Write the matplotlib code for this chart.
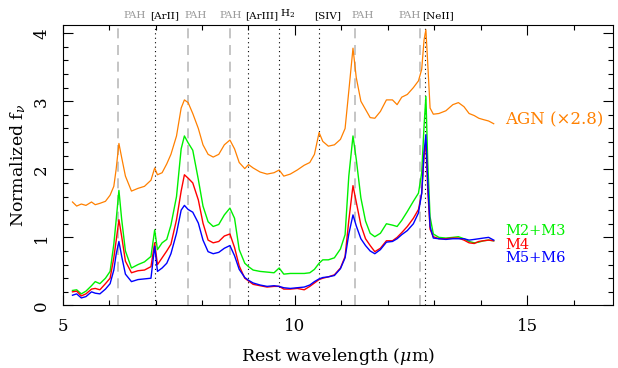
#! /usr/bin/env python3

import numpy as np
from matplotlib import pyplot as plt
from matplotlib.ticker import MultipleLocator

plt.rcParams['font.family'] = ['DejaVu Serif']
plt.rcParams['mathtext.fontset'] = 'dejavuserif'

# Rest wavelength grid (micron)
wave = [5.21, 5.30, 5.40, 5.50, 5.62, 5.70, 5.80, 5.92, 6.02, 6.10, 6.15, 6.21,
        6.27, 6.35, 6.48, 6.62, 6.76, 6.90, 6.98, 7.04, 7.14, 7.24, 7.33, 7.45,
        7.55, 7.62, 7.70, 7.80, 7.92, 8.02, 8.13, 8.24, 8.36, 8.48, 8.60, 8.70,
        8.80, 8.92, 9.00, 9.10, 9.25, 9.40, 9.55, 9.66, 9.76, 9.90, 10.05, 10.20,
        10.32, 10.42, 10.52, 10.60, 10.72, 10.85, 10.98, 11.08, 11.16, 11.25,
        11.32, 11.42, 11.52, 11.62, 11.72, 11.84, 11.97, 12.10, 12.20, 12.30,
        12.42, 12.55, 12.66, 12.73, 12.78, 12.82, 12.86, 12.91, 12.98, 13.10,
        13.25, 13.40, 13.52, 13.64, 13.75, 13.86, 13.96, 14.06, 14.17, 14.28]

agn = [1.52, 1.46, 1.49, 1.47, 1.52, 1.48, 1.50, 1.53, 1.62, 1.75, 2.00, 2.38,
       2.17, 1.90, 1.68, 1.72, 1.75, 1.84, 2.02, 1.92, 1.95, 2.08, 2.22, 2.49,
       2.90, 3.02, 2.98, 2.82, 2.60, 2.36, 2.22, 2.18, 2.22, 2.36, 2.43, 2.30,
       2.10, 2.01, 2.07, 2.02, 1.96, 1.93, 1.95, 1.99, 1.90, 1.93, 1.99, 2.06,
       2.10, 2.22, 2.54, 2.41, 2.34, 2.36, 2.44, 2.60, 3.15, 3.78,
       3.35, 3.00, 2.88, 2.76, 2.75, 2.85, 3.02, 3.02, 2.95, 3.06,
       3.10, 3.20, 3.30, 3.47, 3.90, 4.05, 3.55, 2.90, 2.81, 2.82,
       2.86, 2.95, 2.98, 2.92, 2.82, 2.79, 2.75, 2.73, 2.71, 2.67]

m23 = [0.22, 0.23, 0.17, 0.21, 0.29, 0.35, 0.32, 0.40, 0.50, 0.90, 1.25, 1.69,
       1.26, 0.80, 0.55, 0.60, 0.64, 0.72, 1.11, 0.82, 0.92, 0.97, 1.18, 1.60,
       2.30, 2.49, 2.39, 2.28, 1.85, 1.46, 1.23, 1.16, 1.19, 1.33, 1.43, 1.28,
       0.82, 0.62, 0.57, 0.52, 0.50, 0.49, 0.48, 0.55, 0.46, 0.47, 0.47, 0.47,
       0.48, 0.53, 0.62, 0.67, 0.67, 0.70, 0.83, 1.04, 1.90, 2.49,
       2.15, 1.58, 1.24, 1.06, 1.01, 1.06, 1.20, 1.18, 1.16, 1.25,
       1.38, 1.53, 1.65, 1.95, 2.63, 3.07, 2.10, 1.30, 1.05, 1.00,
       0.99, 1.00, 1.01, 0.98, 0.94, 0.92, 0.93, 0.95, 0.96, 0.95]

m4 = [0.20, 0.21, 0.14, 0.17, 0.24, 0.25, 0.23, 0.32, 0.40, 0.70, 0.95, 1.26,
      1.01, 0.65, 0.48, 0.51, 0.52, 0.57, 0.92, 0.60, 0.70, 0.80, 0.90, 1.26,
      1.68, 1.92, 1.87, 1.80, 1.55, 1.21, 0.96, 0.92, 0.94, 1.02, 1.05, 0.85,
      0.58, 0.40, 0.36, 0.31, 0.29, 0.27, 0.28, 0.28, 0.24, 0.24, 0.25, 0.23,
      0.28, 0.33, 0.38, 0.40, 0.42, 0.45, 0.55, 0.72, 1.25, 1.76,
      1.52, 1.18, 0.98, 0.88, 0.79, 0.84, 0.95, 0.95, 1.00, 1.07,
      1.16, 1.28, 1.41, 1.65, 2.20, 2.39, 1.70, 1.12, 1.01, 0.98,
      0.98, 0.99, 0.99, 0.96, 0.92, 0.91, 0.94, 0.95, 0.96, 0.95]

m56 = [0.15, 0.17, 0.11, 0.13, 0.20, 0.18, 0.17, 0.24, 0.32, 0.52, 0.75, 0.94,
       0.72, 0.46, 0.35, 0.38, 0.39, 0.40, 0.87, 0.50, 0.55, 0.62, 0.76, 1.06,
       1.40, 1.47, 1.41, 1.37, 1.21, 0.96, 0.79, 0.76, 0.78, 0.84, 0.88, 0.73,
       0.53, 0.41, 0.37, 0.33, 0.30, 0.28, 0.29, 0.28, 0.26, 0.25, 0.26, 0.27,
       0.30, 0.35, 0.39, 0.41, 0.42, 0.44, 0.54, 0.70, 1.05, 1.33,
       1.17, 0.98, 0.88, 0.80, 0.76, 0.82, 0.93, 0.94, 0.98, 1.04,
       1.10, 1.20, 1.36, 1.65, 2.25, 2.51, 1.80, 1.16, 0.99, 0.98,
       0.97, 0.98, 0.98, 0.98, 0.96, 0.97, 0.98, 0.99, 1.00, 0.96]

# Feature lines and their labels (label x position, text)
pah_lines = [6.2, 7.7, 8.6, 11.3, 12.7]
ion_lines = [6.99, 8.99, 9.66, 10.51, 12.81]
top_labels = [(6.55, 'PAH', 'gray'), (7.19, '[ArII]', 'k'), (7.86, 'PAH', 'gray'),
              (8.62, 'PAH', 'gray'), (9.28, '[ArIII]', 'k'), (9.84, 'H$_2$', 'k'),
              (10.70, '[SIV]', 'k'), (11.45, 'PAH', 'gray'), (12.48, 'PAH', 'gray'),
              (13.08, '[NeII]', 'k')]

orange = '#ff8000'
green = '#00f000'

fig = plt.figure(figsize=(6.18, 3.68), dpi=100)
ax = fig.add_axes([0.1015, 0.170, 0.8905, 0.762])

for x in pah_lines:
    ax.axvline(x, color='#bbbbbb', lw=1.2, ls=(0, (6, 4)), zorder=1)
for x in ion_lines:
    ax.axvline(x, color='k', lw=0.8, ls=(0, (1, 3)), zorder=1)

ax.plot(wave, agn, color=orange, lw=0.9)
ax.plot(wave, m23, color=green, lw=1.0)
ax.plot(wave, m4, color='#ff0000', lw=1.0)
ax.plot(wave, m56, color='#0000ff', lw=1.0)

ax.text(14.53, 2.73, 'AGN (\u00d72.8)', color=orange, fontsize=12, va='center')
ax.text(14.53, 1.09, 'M2+M3', color=green, fontsize=10.5, va='center')
ax.text(14.53, 0.89, 'M4', color='#ff0000', fontsize=10.5, va='center')
ax.text(14.53, 0.69, 'M5+M6', color='#0000ff', fontsize=10.5, va='center')

for x, s, c in top_labels:
    ax.text(x, 4.19, s, color=c if c == 'k' else '#999999', fontsize=7.5,
            ha='center', va='bottom')

ax.set_xlim(5, 16.85)
ax.set_ylim(0, 4.12)
ax.xaxis.set_major_locator(MultipleLocator(5))
ax.xaxis.set_minor_locator(MultipleLocator(1))
ax.yaxis.set_major_locator(MultipleLocator(1))
ax.yaxis.set_minor_locator(MultipleLocator(0.2))
ax.tick_params(which='both', direction='in', top=True, right=True, labelsize=12)
ax.tick_params(which='major', length=7, width=0.8)
ax.tick_params(which='minor', length=3.5, width=0.8)
ax.tick_params(axis='x', pad=9)
ax.tick_params(axis='y', pad=9)
for lab in ax.get_yticklabels():
    lab.set_rotation(90)
    lab.set_va('center')

ax.set_xlabel(r'Rest wavelength ($\mu$m)', fontsize=12.5, labelpad=8)
ax.set_ylabel(r'Normalized f$_\nu$', fontsize=12.5, labelpad=4)

fig.savefig('out.png', dpi=100)
